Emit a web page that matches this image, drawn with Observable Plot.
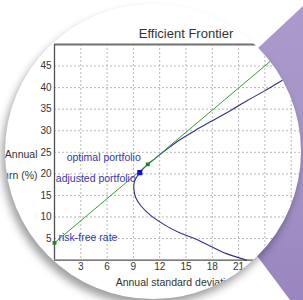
<!DOCTYPE html>
<html>
<head>
<meta charset="utf-8">
<script src="https://cdn.jsdelivr.net/npm/d3@7"></script>
<script src="https://cdn.jsdelivr.net/npm/@observablehq/plot@0.6"></script>
<style>
  html, body { margin: 0; padding: 0; background: #fff; }
  #page { position: relative; width: 303px; height: 300px; overflow: hidden; background: #fff; }
  #purple { position: absolute; left: 0; top: 0; width: 303px; height: 300px;
    clip-path: polygon(166px 134px, 303px 6px, 303px 300px, 290px 300px);
    background: linear-gradient(180deg, #aa9bcb 0%, #a391c6 60%, #9a85c0 100%); }
  #circle { position: absolute; left: 5px; top: 4px; width: 296px; height: 295px; border-radius: 50%;
    overflow: hidden; background: #fff; box-shadow: -3px 6px 9px rgba(0,0,0,0.38); }
  #chart { position: absolute; left: -5px; top: -4px; width: 337px; height: 300px; }
  #chart svg { max-width: none !important; width: 337px; height: 300px; }
</style>
</head>
<body>
<div id="page">
  <div id="purple"></div>
  <div id="circle"><div id="chart"></div></div>
</div>
<script>
// ---- data ----
const title = "Efficient Frontier";
const xLabel = "Annual standard deviation (%)";
const yLabel = "Annual\nreturn (%)";
const xTicks = [3, 6, 9, 12, 15, 18, 21, 24, 27, 30];
const yTicks = [5, 10, 15, 20, 25, 30, 35, 40, 45];

// efficient frontier (sigma, mu) in %
const frontierSigma = [21.9, 19.6, 17.8, 16.1, 14.4, 12.7, 11.0, 9.85, 9.26, 9.08, 9.04, 9.19, 9.73, 10.64, 11.5, 12.5, 14.0, 16.0, 18.0, 20.0, 22.0, 24.0, 26.0, 28.0, 30.0];
const frontierMu    = [0.0,  1.5,  3.2,  4.9,  6.2,  8.0,  10.3, 12.6, 14.5, 16.1, 17.2, 18.6, 20.3, 22.2,  23.6, 25.2, 27.5, 30.0, 32.3, 34.6, 37.0, 39.3, 41.7, 44.0, 46.3];

// capital market line
const cmlSigma = [0, 26.9];
const cmlMu    = [4, 50];

// labelled points
const riskFree = {sigma: 0, mu: 4, label: "risk-free rate"};
const optimal  = {sigma: 10.64, mu: 22.2, label: "optimal portfolio"};
const adjusted = {sigma: 9.73, mu: 20.3, label: "adjusted portfolio"};

// ---- build ----
const frontier = frontierSigma.map((s, i) => ({sigma: s, mu: frontierMu[i]}));
const cml = cmlSigma.map((s, i) => ({sigma: s, mu: cmlMu[i]}));

const font = "'Liberation Sans', Arial, sans-serif";
const textBlue = "#3535b5";

const chart = Plot.plot({
  width: 337,
  height: 300,
  marginLeft: 54,
  marginTop: 44,
  marginBottom: 40.4,
  marginRight: 20,
  x: {domain: [0, 30]},
  y: {domain: [0, 50]},
  style: {fontFamily: font, fontSize: "10px", color: "#333", background: "transparent", overflow: "visible", maxWidth: "none"},
  marks: [
    Plot.gridX(xTicks, {stroke: "#b8b8b8", strokeOpacity: 1, strokeDasharray: "2,2"}),
    Plot.gridY(yTicks, {stroke: "#b8b8b8", strokeOpacity: 1, strokeDasharray: "2,2"}),
    Plot.axisX(xTicks.filter(d => d < 30), {tickSize: 0, tickPadding: 3, label: null, fill: "#333", fontSize: 10}),
    Plot.axisY(yTicks, {tickSize: 0, tickPadding: 3, label: null, fill: "#333", fontSize: 10}),
    Plot.ruleY([50], {stroke: "#707070", strokeWidth: 2}),
    Plot.ruleX([30], {stroke: "#707070", strokeWidth: 2}),
    Plot.ruleX([0], {stroke: "#505050", strokeWidth: 1.3}),
    Plot.ruleY([0], {stroke: "#505050", strokeWidth: 1.3}),
    Plot.line(frontier, {x: "sigma", y: "mu", stroke: "#30308c", strokeWidth: 1.1, curve: "catmull-rom"}),
    Plot.line(cml, {x: "sigma", y: "mu", stroke: "#3a9a3a", strokeWidth: 1}),
    Plot.dot([riskFree, optimal], {x: "sigma", y: "mu", symbol: "square", r: 2.2, fill: "#1f8a1f", stroke: "none"}),
    Plot.dot([adjusted], {x: "sigma", y: "mu", symbol: "square", r: 2.9, fill: "#1212d0", stroke: "none"}),
    Plot.text([optimal], {x: "sigma", y: "mu", text: "label", textAnchor: "end", dx: -7, dy: -7, fill: textBlue, fontSize: 10.5}),
    Plot.text([adjusted], {x: "sigma", y: "mu", text: "label", textAnchor: "end", dx: -4, dy: 6, fill: textBlue, fontSize: 10.5}),
    Plot.text([riskFree], {x: "sigma", y: "mu", text: "label", textAnchor: "start", dx: 4, dy: -5, fill: textBlue, fontSize: 10.5}),
    Plot.text([title], {frameAnchor: "top", dy: -16, fontSize: 13, fill: "#333"}),
    Plot.text([xLabel], {frameAnchor: "bottom", dy: 26, fontSize: 10.5, fill: "#333"}),
    Plot.text([yLabel], {frameAnchor: "left", dx: -17, dy: 9, textAnchor: "end", lineHeight: 2, fontSize: 10.5, fill: "#333"})
  ]
});
document.getElementById("chart").appendChild(chart);
</script>
</body>
</html>
